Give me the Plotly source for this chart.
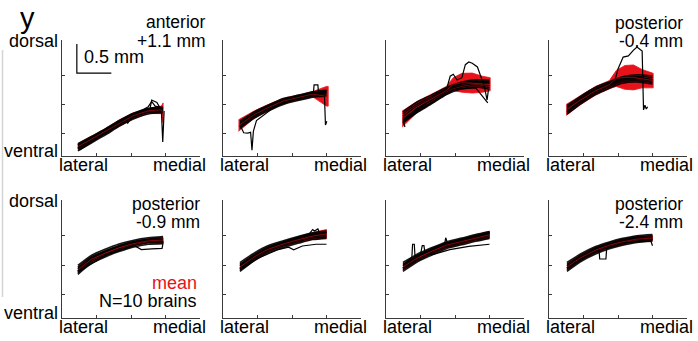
import plotly.graph_objects as go

W, H = 698, 341

# ---------------- data (axis units: 1 unit = 0.5 mm) ----------------
X_RANGE = [0, 4]
Y_RANGE = [0, 4]
X_TICKS = [1, 2, 3]
Y_TICKS = [0.78, 1.78, 2.78]

SECTION_TITLES = [("anterior", "+1.1 mm"), None, None, ("posterior", "-0.4 mm"),
                  ("posterior", "-0.9 mm"), None, None, ("posterior", "-2.4 mm")]

# Panel 1: anterior +1.1 mm
P1_X = [0.46, 0.85, 1.25, 1.65, 2.05, 2.5, 2.93]
P1_BRAINS = [
    [0.18, 0.45, 0.72, 1.02, 1.27, 1.45, 1.49],
    [0.24, 0.50, 0.77, 1.07, 1.32, 1.50, 1.53],
    [0.29, 0.55, 0.81, 1.11, 1.36, 1.55, 1.58],
    [0.33, 0.59, 0.85, 1.15, 1.40, 1.58, 1.62],
    [0.37, 0.63, 0.89, 1.19, 1.44, 1.62, 1.65],
    [0.42, 0.67, 0.93, 1.22, 1.47, 1.64, 1.68],
    [0.27, 0.60, 0.88, 1.10, 1.42, 1.60, 1.55],
]
P1_OUT = [
    ([0.50, 1.20, 1.85, 1.90, 2.00, 2.40, 2.55, 2.60, 2.75, 2.88, 2.92, 2.96],
     [0.20, 0.75, 1.25, 1.12, 1.30, 1.52, 1.62, 1.93, 1.85, 1.58, 0.48, 1.55]),
    ([0.46, 1.30, 2.20, 2.50, 2.60, 2.70, 2.93],
     [0.38, 0.95, 1.50, 1.70, 1.88, 1.72, 1.66]),
]
P1_RED_X = [0.46, 0.85, 1.25, 1.65, 2.05, 2.5, 2.88, 2.93]
P1_RED_HI = [0.42, 0.68, 0.94, 1.24, 1.48, 1.65, 1.72, 1.83]
P1_RED_LO = [0.22, 0.48, 0.74, 1.02, 1.28, 1.47, 1.46, 1.14]

# Panel 2
P2_X = [0.49, 0.9, 1.3, 1.75, 2.2, 2.6, 3.0]
P2_BRAINS = [
    [0.95, 1.30, 1.55, 1.78, 1.92, 2.03, 2.06],
    [1.00, 1.35, 1.60, 1.83, 1.96, 2.07, 2.10],
    [1.05, 1.40, 1.64, 1.87, 2.00, 2.11, 2.15],
    [1.10, 1.44, 1.68, 1.91, 2.04, 2.15, 2.19],
    [1.15, 1.48, 1.72, 1.95, 2.07, 2.18, 2.23],
    [1.20, 1.52, 1.75, 1.98, 2.10, 2.21, 2.27],
    [1.02, 1.45, 1.70, 1.90, 2.05, 2.20, 2.25],
]
P2_OUT = [
    ([0.50, 0.60, 0.72, 0.80, 0.84, 0.88, 0.97, 1.50, 2.20, 2.62, 2.64, 2.75, 2.77, 3.00],
     [1.05, 0.80, 0.79, 0.82, 0.20, 0.85, 1.22, 1.70, 2.00, 2.15, 2.45, 2.45, 2.15, 2.20]),
    ([0.50, 1.50, 2.50, 2.94, 2.97, 3.01],
     [1.15, 1.75, 2.10, 2.10, 1.07, 1.20]),
]
P2_RED_X = [0.45, 0.9, 1.3, 1.75, 2.2, 2.6, 3.0, 3.05]
P2_RED_HI = [1.25, 1.55, 1.77, 1.99, 2.11, 2.22, 2.40, 2.40]
P2_RED_LO = [0.85, 1.30, 1.56, 1.80, 1.94, 2.04, 1.72, 1.72]

# Panel 3
P3_X = [0.49, 0.9, 1.3, 1.75, 2.2, 2.6, 3.0]
P3_BRAINS = [
    [1.14, 1.50, 1.78, 2.12, 2.32, 2.38, 2.30],
    [1.22, 1.57, 1.84, 2.18, 2.37, 2.43, 2.36],
    [1.30, 1.65, 1.91, 2.24, 2.43, 2.49, 2.43],
    [1.37, 1.72, 1.97, 2.29, 2.48, 2.54, 2.50],
    [1.45, 1.79, 2.03, 2.33, 2.52, 2.59, 2.56],
    [1.52, 1.86, 2.09, 2.36, 2.55, 2.63, 2.61],
    [1.25, 1.62, 1.92, 2.27, 2.50, 2.57, 2.52],
]
P3_OUT = [
    ([0.50, 1.20, 1.75, 1.86, 1.95, 2.06, 2.20, 2.30, 2.40, 2.50, 2.65, 2.85, 2.93, 2.97],
     [1.20, 1.85, 2.28, 2.75, 2.82, 2.62, 2.70, 3.15, 3.24, 3.20, 3.07, 2.40, 1.93, 2.30]),
    ([0.55, 0.50, 1.20, 2.00, 2.60, 2.95],
     [1.00, 1.20, 1.75, 2.30, 2.35, 1.83]),
]
P3_RED_X = [0.47, 0.9, 1.3, 1.75, 1.95, 2.2, 2.5, 2.8, 3.02]
P3_RED_HI = [1.55, 1.88, 2.12, 2.40, 2.70, 2.85, 2.86, 2.75, 2.70]
P3_RED_LO = [1.00, 1.50, 1.78, 2.12, 2.25, 2.20, 2.17, 2.20, 2.25]

# Panel 4: posterior -0.4 mm
P4_X = [0.52, 0.9, 1.35, 1.75, 2.1, 2.55, 3.0]
P4_BRAINS = [
    [1.44, 1.78, 2.12, 2.34, 2.50, 2.55, 2.48],
    [1.50, 1.84, 2.17, 2.39, 2.55, 2.60, 2.54],
    [1.56, 1.89, 2.22, 2.44, 2.60, 2.65, 2.59],
    [1.62, 1.95, 2.28, 2.48, 2.64, 2.70, 2.64],
    [1.68, 2.00, 2.32, 2.52, 2.68, 2.75, 2.70],
    [1.74, 2.05, 2.37, 2.56, 2.72, 2.80, 2.76],
    [1.50, 1.90, 2.30, 2.50, 2.66, 2.72, 2.60],
]
P4_OUT = [
    ([0.55, 1.30, 1.90, 2.00, 2.15, 2.30, 2.45, 2.55, 2.70, 2.74, 2.78, 2.82, 2.86],
     [1.55, 2.20, 2.55, 3.00, 3.41, 3.45, 3.65, 3.76, 3.62, 1.59, 1.75, 1.62, 1.70]),
]
P4_RED_X = [0.50, 0.9, 1.35, 1.75, 1.95, 2.2, 2.45, 2.7, 3.02]
P4_RED_HI = [1.78, 2.08, 2.40, 2.60, 2.95, 3.12, 3.14, 2.98, 2.85]
P4_RED_LO = [1.40, 1.76, 2.10, 2.32, 2.40, 2.30, 2.28, 2.35, 2.35]

# Panel 5: posterior -0.9 mm
P5_X = [0.46, 0.85, 1.25, 1.65, 2.05, 2.5, 2.93]
P5_BRAINS = [
    [1.48, 1.85, 2.07, 2.25, 2.40, 2.50, 2.52],
    [1.54, 1.90, 2.12, 2.30, 2.45, 2.55, 2.57],
    [1.60, 1.96, 2.17, 2.35, 2.50, 2.60, 2.62],
    [1.66, 2.02, 2.23, 2.41, 2.54, 2.64, 2.66],
    [1.72, 2.07, 2.28, 2.46, 2.59, 2.68, 2.71],
    [1.78, 2.12, 2.33, 2.51, 2.63, 2.72, 2.76],
    [1.58, 2.00, 2.25, 2.42, 2.55, 2.65, 2.60],
]
P5_OUT = [
    ([0.46, 1.30, 2.10, 2.30, 2.60, 2.90, 2.93, 2.90],
     [1.55, 2.15, 2.45, 2.32, 2.34, 2.36, 2.55, 2.66]),
]
P5_RED_X = [0.46, 0.85, 1.25, 1.65, 2.05, 2.5, 2.93]
P5_RED_HI = [1.73, 2.08, 2.28, 2.46, 2.59, 2.69, 2.72]
P5_RED_LO = [1.52, 1.90, 2.11, 2.30, 2.44, 2.54, 2.56]

# Panel 6
P6_X = [0.49, 0.9, 1.3, 1.75, 2.2, 2.6, 3.0]
P6_BRAINS = [
    [1.58, 1.94, 2.20, 2.39, 2.54, 2.66, 2.70],
    [1.64, 1.99, 2.25, 2.44, 2.59, 2.71, 2.75],
    [1.70, 2.04, 2.30, 2.49, 2.64, 2.76, 2.80],
    [1.76, 2.10, 2.36, 2.53, 2.68, 2.80, 2.85],
    [1.82, 2.15, 2.41, 2.58, 2.73, 2.85, 2.90],
    [1.88, 2.20, 2.45, 2.62, 2.77, 2.89, 2.95],
    [1.66, 2.08, 2.35, 2.55, 2.70, 2.83, 2.88],
]
P6_OUT = [
    ([0.50, 1.00, 1.60, 1.90, 2.05, 2.30, 2.70, 3.00],
     [1.62, 2.02, 2.32, 2.40, 2.31, 2.44, 2.50, 2.50]),
    ([0.50, 1.50, 2.50, 2.60, 2.65, 2.75, 2.80, 3.00],
     [1.80, 2.48, 2.85, 3.00, 2.95, 3.02, 2.88, 2.92]),
]
P6_RED_X = [0.49, 0.9, 1.3, 1.75, 2.2, 2.6, 3.0]
P6_RED_HI = [1.83, 2.16, 2.42, 2.60, 2.76, 2.90, 3.00]
P6_RED_LO = [1.62, 1.98, 2.24, 2.42, 2.56, 2.66, 2.70]

# Panel 7
P7_X = [0.49, 0.9, 1.3, 1.75, 2.2, 2.6, 3.0]
P7_BRAINS = [
    [1.58, 1.90, 2.12, 2.35, 2.48, 2.60, 2.70],
    [1.64, 1.95, 2.17, 2.40, 2.53, 2.65, 2.75],
    [1.70, 2.00, 2.22, 2.45, 2.58, 2.70, 2.80],
    [1.76, 2.06, 2.28, 2.49, 2.62, 2.74, 2.84],
    [1.82, 2.11, 2.33, 2.54, 2.67, 2.79, 2.89],
    [1.88, 2.16, 2.37, 2.58, 2.71, 2.83, 2.93],
    [1.68, 2.06, 2.30, 2.50, 2.64, 2.76, 2.86],
]
P7_OUT = [
    ([0.50, 0.75, 0.77, 0.82, 0.84, 1.00, 1.05, 1.10, 1.13, 1.60, 1.70, 1.73, 1.78, 3.00],
     [1.80, 2.05, 2.50, 2.50, 2.10, 2.15, 2.45, 2.45, 2.20, 2.45, 2.50, 2.72, 2.55, 2.90]),
    ([1.30, 1.85, 2.40, 3.00],
     [2.13, 2.32, 2.43, 2.50]),
]
P7_RED_X = [0.49, 0.9, 1.3, 1.75, 2.2, 2.6, 3.0]
P7_RED_HI = [1.83, 2.13, 2.35, 2.56, 2.69, 2.82, 2.94]
P7_RED_LO = [1.62, 1.93, 2.15, 2.38, 2.50, 2.62, 2.70]

# Panel 8: posterior -2.4 mm
P8_X = [0.52, 0.9, 1.35, 1.75, 2.1, 2.55, 3.0]
P8_BRAINS = [
    [1.58, 1.90, 2.17, 2.35, 2.46, 2.56, 2.60],
    [1.64, 1.95, 2.22, 2.40, 2.51, 2.61, 2.65],
    [1.70, 2.00, 2.27, 2.45, 2.56, 2.66, 2.70],
    [1.76, 2.06, 2.33, 2.49, 2.60, 2.70, 2.74],
    [1.82, 2.11, 2.38, 2.54, 2.65, 2.75, 2.79],
    [1.88, 2.16, 2.42, 2.58, 2.69, 2.79, 2.83],
    [1.68, 2.00, 2.35, 2.50, 2.62, 2.72, 2.66],
]
P8_OUT = [
    ([0.52, 1.00, 1.45, 1.47, 1.65, 1.67, 2.20, 2.95, 3.00],
     [1.70, 2.05, 2.30, 2.00, 2.00, 2.35, 2.55, 2.62, 2.45]),
]
P8_RED_X = [0.52, 0.9, 1.35, 1.75, 2.1, 2.55, 3.0]
P8_RED_HI = [1.83, 2.13, 2.40, 2.56, 2.67, 2.77, 2.80]
P8_RED_LO = [1.62, 1.93, 2.20, 2.38, 2.48, 2.58, 2.62]

SCALE_BAR_X = [0.43, 0.43, 1.43]   # 0.5 mm horizontal / vertical
SCALE_BAR_Y = [3.86, 2.86, 2.86]

PANELS = [
    (P1_X, P1_BRAINS, P1_OUT, P1_RED_X, P1_RED_HI, P1_RED_LO),
    (P2_X, P2_BRAINS, P2_OUT, P2_RED_X, P2_RED_HI, P2_RED_LO),
    (P3_X, P3_BRAINS, P3_OUT, P3_RED_X, P3_RED_HI, P3_RED_LO),
    (P4_X, P4_BRAINS, P4_OUT, P4_RED_X, P4_RED_HI, P4_RED_LO),
    (P5_X, P5_BRAINS, P5_OUT, P5_RED_X, P5_RED_HI, P5_RED_LO),
    (P6_X, P6_BRAINS, P6_OUT, P6_RED_X, P6_RED_HI, P6_RED_LO),
    (P7_X, P7_BRAINS, P7_OUT, P7_RED_X, P7_RED_HI, P7_RED_LO),
    (P8_X, P8_BRAINS, P8_OUT, P8_RED_X, P8_RED_HI, P8_RED_LO),
]

# ---------------- layout geometry (pixels) ----------------
COL_LEFT = [62, 223, 386, 549]
PANEL_W = 138
ROW_TOP = [40, 200]
ROW_BOT = [156, 318]

RED = "rgb(232,18,26)"
AXC = "#3a3a3a"
FONT = "Liberation Sans, Arial, sans-serif"

fig = go.Figure()
layout = {}

for i, (px, brains, outs, rx, rhi, rlo) in enumerate(PANELS):
    r, c = divmod(i, 4)
    n = i + 1
    xa = "x" if n == 1 else f"x{n}"
    ya = "y" if n == 1 else f"y{n}"
    xkey = "xaxis" if n == 1 else f"xaxis{n}"
    ykey = "yaxis" if n == 1 else f"yaxis{n}"
    left = COL_LEFT[c]
    layout[xkey] = dict(
        domain=[left / W, (left + PANEL_W) / W], range=X_RANGE, anchor=ya,
        showgrid=False, zeroline=False, showline=True, linecolor=AXC, linewidth=1,
        ticks="inside", ticklen=3, tickcolor=AXC, tickvals=X_TICKS, showticklabels=False,
        fixedrange=True)
    layout[ykey] = dict(
        domain=[1 - ROW_BOT[r] / H, 1 - ROW_TOP[r] / H], range=Y_RANGE, anchor=xa,
        showgrid=False, zeroline=False, showline=True, linecolor=AXC, linewidth=1,
        ticks="inside", ticklen=3, tickcolor=AXC, tickvals=Y_TICKS, showticklabels=False,
        fixedrange=True)

    # red mean band
    fig.add_trace(go.Scatter(
        x=list(rx) + list(rx)[::-1], y=list(rhi) + list(rlo)[::-1],
        fill="toself", fillcolor=RED, line=dict(width=0.8, color=RED),
        mode="lines", xaxis=xa, yaxis=ya, hoverinfo="skip", showlegend=False))
    # individual brains
    for b in brains:
        fig.add_trace(go.Scatter(
            x=px, y=b, mode="lines",
            line=dict(color="rgba(0,0,0,0.9)", width=1.6, shape="spline", smoothing=0.6),
            xaxis=xa, yaxis=ya, hoverinfo="skip", showlegend=False))
    for ox, oy in outs:
        fig.add_trace(go.Scatter(
            x=ox, y=oy, mode="lines", line=dict(color="black", width=1.2),
            xaxis=xa, yaxis=ya, hoverinfo="skip", showlegend=False))
    # thin mean line on top
    fig.add_trace(go.Scatter(
        x=rx, y=[(a + b) / 2 for a, b in zip(rhi, rlo)], mode="lines",
        line=dict(color="rgba(232,18,26,0.5)", width=1),
        xaxis=xa, yaxis=ya, hoverinfo="skip", showlegend=False))

# scale bar in panel 1
fig.add_trace(go.Scatter(x=SCALE_BAR_X, y=SCALE_BAR_Y, mode="lines",
                         line=dict(color="black", width=1.2), xaxis="x", yaxis="y",
                         hoverinfo="skip", showlegend=False))

ann = []


def text(s, x, y, xanchor="center", size=18, color="black"):
    ann.append(dict(text=s, x=x / W, y=1 - y / H, xref="paper", yref="paper",
                    xanchor=xanchor, yanchor="middle", showarrow=False, borderpad=0,
                    font=dict(family=FONT, size=size, color=color)))


text("y", 27, 18, size=29)
text("0.5 mm", 114, 57)
for r in range(2):
    text("dorsal", 59, ROW_TOP[r] + 1, xanchor="right")
    text("ventral", 59, ROW_BOT[r] - 5, xanchor="right")
    for c in range(4):
        left = COL_LEFT[c]
        text("lateral", left - 4, ROW_BOT[r] + 9, xanchor="left")
        text("medial", left + PANEL_W + 7, ROW_BOT[r] + 9, xanchor="right")

TITLE_POS = {0: (207, 22, 41), 3: (684, 23, 41), 4: (201, 204, 222), 7: (684, 204, 222)}
for i, t in enumerate(SECTION_TITLES):
    if t:
        xr, y1, y2 = TITLE_POS[i]
        text(t[0], xr, y1, xanchor="right", size=17.5)
        text(t[1], xr, y2, xanchor="right", size=17.5)

text("mean", 198, 283, xanchor="right", color=RED)
text("N=10 brains", 198, 301, xanchor="right")

layout["shapes"] = [dict(type="line", xref="paper", yref="paper",
                         x0=2.5 / W, x1=2.5 / W, y0=1 - 50 / H, y1=1 - 297 / H,
                         line=dict(color="#d4d4d4", width=1.5))]
layout["annotations"] = ann
fig.update_layout(width=W, height=H, margin=dict(l=0, r=0, t=0, b=0),
                  paper_bgcolor="white", plot_bgcolor="white", showlegend=False,
                  **layout)

fig.write_html("out.html", config={"displayModeBar": False},
               post_script="document.body.style.margin='0';document.body.style.overflow='hidden';")
